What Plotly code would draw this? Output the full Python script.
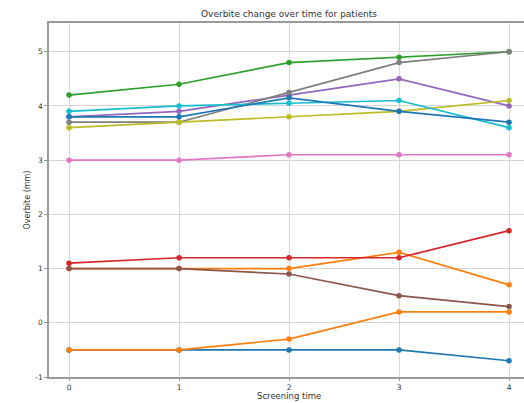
import plotly.graph_objects as go

# Screening times (x) and overbite per patient (mm)
times = [0, 1, 2, 3, 4]

p01 = [-0.5, -0.5, -0.5, -0.5, -0.7]
p02 = [1.0, 1.0, 1.0, 1.3, 0.7]
p03 = [4.2, 4.4, 4.8, 4.9, 5.0]
p04 = [1.1, 1.2, 1.2, 1.2, 1.7]
p05 = [3.8, 3.9, 4.2, 4.5, 4.0]
p06 = [1.0, 1.0, 0.9, 0.5, 0.3]
p07 = [3.0, 3.0, 3.1, 3.1, 3.1]
p08 = [3.7, 3.7, 4.25, 4.8, 5.0]
p09 = [3.6, 3.7, 3.8, 3.9, 4.1]
p10 = [3.9, 4.0, 4.05, 4.1, 3.6]
p11 = [3.8, 3.8, 4.15, 3.9, 3.7]
p12 = [-0.5, -0.5, -0.3, 0.2, 0.2]

patients = [p01, p02, p03, p04, p05, p06, p07, p08, p09, p10, p11, p12]

# matplotlib tab10 cycle
palette = ["#1f77b4", "#ff7f0e", "#2ca02c", "#d62728", "#9467bd",
           "#8c564b", "#e377c2", "#7f7f7f", "#bcbd22", "#17becf"]

y_ticks = [-1, 0, 1, 2, 3, 4, 5]

fig = go.Figure()
for i, vals in enumerate(patients):
    c = palette[i % len(palette)]
    fig.add_trace(go.Scatter(
        x=times, y=vals, mode="lines+markers",
        line=dict(color=c, width=1.7),
        marker=dict(color=c, size=5.5),
        showlegend=False,
    ))

font = dict(family="DejaVu Sans", size=7.5, color="#333333")
cx = (289 - 49) / (524 - 49)

fig.update_layout(
    width=524, height=403,
    margin=dict(l=49, r=0, t=23, b=26),
    paper_bgcolor="white", plot_bgcolor="white",
    font=font,
    xaxis=dict(
        range=[-0.182, 4.136], tickvals=times, ticktext=[str(t) for t in times],
        showgrid=True, gridcolor="#d6d6d6", gridwidth=1,
        showline=True, linecolor="#9a9a9a", linewidth=1.5, mirror=True,
        ticks="outside", ticklen=2, tickcolor="#9a9a9a",
        tickfont=font, zeroline=False,
    ),
    yaxis=dict(
        range=[-1.0, 5.53], tickvals=y_ticks, ticktext=[str(v) for v in y_ticks],
        showgrid=True, gridcolor="#d6d6d6", gridwidth=1,
        showline=True, linecolor="#9a9a9a", linewidth=1.5,
        ticks="outside", ticklen=3, tickcolor="#9a9a9a",
        tickfont=font, zeroline=False,
    ),
    annotations=[
        dict(text="Overbite change over time for patients", xref="paper", yref="paper",
             x=cx, y=1.0, yanchor="bottom", yshift=2, showarrow=False,
             font=dict(family="DejaVu Sans", size=9, color="#333333")),
        dict(text="Screening time", xref="paper", yref="paper",
             x=cx, y=0, yanchor="bottom", yshift=-26, showarrow=False,
             font=dict(family="DejaVu Sans", size=8.5, color="#333333")),
        dict(text="Overbite (mm)", xref="paper", yref="paper",
             x=0, xshift=-29, y=0.5, textangle=-90, showarrow=False,
             font=dict(family="DejaVu Sans", size=8, color="#333333")),
    ],
)

fig.write_html("out.html")
